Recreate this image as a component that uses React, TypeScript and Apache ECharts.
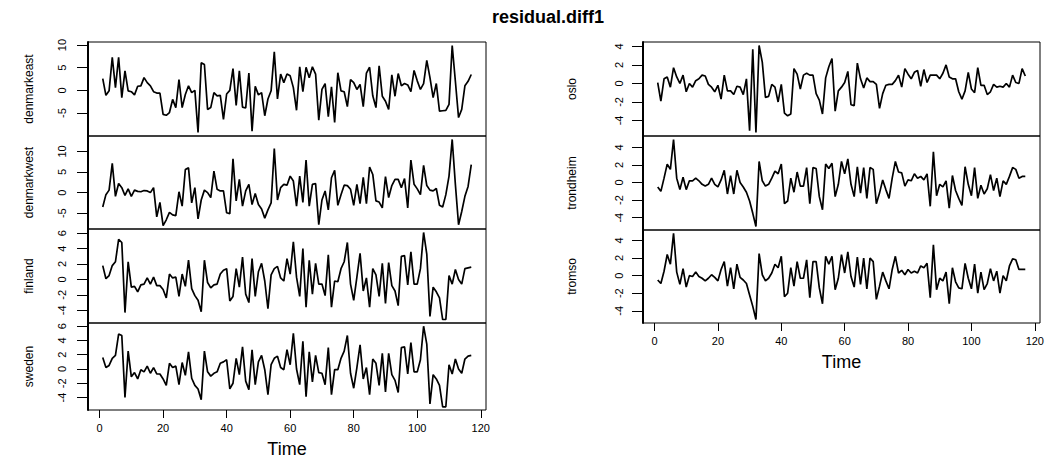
import { useEffect, useRef } from "react";
import * as echarts from "echarts";

const TIME = Array.from({ length: 117 }, (_, i) => i + 1);
const X_TICKS = [0, 20, 40, 60, 80, 100, 120];
const TICKS_DK = [-5, 0, 5, 10];
const TICKS_FS = [-4, -2, 0, 2, 4, 6];
const TICKS_NO = [-4, -2, 0, 2, 4];

const denmarkeast = [2.6,-1.1,-0.1,7.3,0.6,7.3,-1.6,4.3,-0.1,-0.3,
-1.0,0.9,1.0,2.8,1.7,1.0,-0.3,-0.6,-0.6,-5.3,
-5.5,-4.9,-2.0,-3.8,2.4,-3.8,-0.9,1.0,-0.5,0.0,
-9.3,6.1,5.7,-4.2,-3.8,-0.5,-1.2,-1.1,-6.4,-0.8,
0.0,4.8,-3.3,4.3,-3.7,-3.9,3.8,-9.0,0.9,-1.0,
-0.5,-5.6,-1.9,-0.1,8.5,-1.9,3.6,1.7,3.6,3.2,
0.6,-4.4,5.2,-0.3,5.1,2.8,5.2,3.6,-6.6,0.2,
1.5,-5.8,0.8,-7.1,3.9,-0.1,-0.3,-3.6,2.4,1.7,
0.2,1.3,-3.6,3.8,5.1,-1.2,-3.8,5.4,-1.3,-2.4,
-4.2,3.4,-1.3,3.7,1.0,1.5,1.2,-0.3,4.4,2.1,
0.2,1.5,6.6,2.8,-1.6,1.5,-4.6,-4.5,-4.4,-3.1,
9.9,2.0,-6.0,-4.2,1.0,2.0,3.5];

const denmarkwest = [-3.5,-0.5,0.6,7.1,-0.9,2.2,1.2,-0.7,0.9,-0.9,
0.6,0.3,0.2,0.5,0.4,0.0,1.2,-5.9,-2.4,-8.0,
-6.6,-4.8,-5.4,-5.6,0.2,-3.3,5.6,6.0,-2.5,1.2,
-6.4,-1.8,0.6,0.0,-1.2,5.2,0.8,0.4,0.4,-4.9,
-5.1,8.2,-2.0,3.2,-3.3,0.4,2.0,-2.9,-0.2,-2.9,
-4.0,-6.2,-4.2,-2.5,10.7,-1.8,1.2,2.0,1.8,4.0,
2.8,-3.3,4.0,-2.4,7.9,-3.3,2.0,2.2,-7.8,-1.8,
0.4,-4.2,3.6,5.4,-3.1,-0.5,1.8,1.7,0.8,-3.1,
2.0,-2.7,3.7,-2.7,6.2,4.4,-2.0,-2.3,-3.7,3.9,
-1.2,1.7,3.2,3.2,1.2,3.4,-3.7,7.9,2.0,0.9,
-0.5,6.6,1.7,0.6,0.4,1.0,-3.1,-3.5,-0.5,4.0,
12.9,2.0,-7.8,-4.6,-0.9,1.5,6.8];

const finland = [1.8,0.1,0.5,1.8,2.3,5.2,4.8,-4.3,2.3,-1.0,
-0.9,-1.6,-0.7,-0.6,0.2,-0.6,0.3,-0.8,-0.8,-1.3,
-2.4,0.7,0.2,0.3,-2.2,0.7,-0.9,2.5,-1.2,-2.1,
-2.7,-4.2,2.5,-0.4,-1.1,-0.7,-0.6,0.7,1.2,1.4,
-2.8,-2.2,1.4,-1.0,2.9,-1.9,-3.0,2.7,-2.2,1.0,
2.1,-0.2,-3.8,0.6,1.4,1.7,0.2,-0.2,2.7,0.7,
4.9,0.3,-2.2,4.0,-3.6,2.5,-1.9,2.1,-0.6,-0.6,
-2.1,3.2,-3.6,-0.2,-0.3,1.4,2.3,4.8,-0.6,-2.7,
0.3,3.4,-1.5,0.2,-3.6,1.4,0.6,-2.2,2.1,-3.1,
2.2,-0.8,-1.5,-3.4,3.0,3.1,-0.7,3.6,-0.6,-0.6,
1.4,6.1,3.3,-4.8,-1.0,-1.6,-2.4,-5.2,-5.2,0.5,
-0.6,1.3,0.0,-0.6,1.4,1.5,1.6];

const sweden = [1.6,0.2,0.5,1.5,1.9,4.9,4.7,-4.0,2.5,-1.1,
-0.5,-1.4,-0.1,-0.4,0.4,-0.6,0.2,-0.7,-0.7,-1.4,
-2.3,0.8,0.2,0.4,-2.2,0.9,-0.9,2.4,-1.3,-2.3,
-2.8,-4.3,2.5,-0.4,-1.0,-0.6,-0.4,0.8,1.0,1.3,
-2.8,-2.0,1.5,-0.8,3.1,-1.7,-2.9,2.7,-2.2,1.0,
1.9,-0.1,-3.6,0.6,1.5,1.8,0.2,-0.1,2.7,0.6,
5.0,0.0,-2.2,3.9,-3.9,2.4,-1.8,1.9,-0.5,-0.6,
-2.2,3.0,-3.6,-0.1,-0.1,1.5,2.5,4.7,-0.6,-2.7,
0.2,3.4,-1.4,0.2,-3.6,1.4,0.8,-2.3,2.2,-3.2,
2.2,-0.8,-1.6,-3.3,3.0,3.1,-0.7,3.7,-0.4,-0.4,
1.3,6.0,3.5,-4.9,-0.8,-1.4,-2.3,-5.3,-5.3,0.6,
-0.7,1.4,0.0,-0.6,1.4,1.8,1.9];

const oslo = [0.1,-1.9,0.5,0.7,-0.4,1.7,0.7,0.0,0.9,-0.9,
0.0,-0.4,0.3,0.5,0.9,0.8,-0.1,-0.4,-0.9,-0.2,
-1.7,0.9,-0.8,-0.8,-1.2,-0.3,-0.4,-1.2,0.5,-5.1,
3.7,-5.3,4.1,2.3,-1.5,-1.4,-0.1,-0.4,-2.0,-0.1,
-3.2,-3.5,-3.3,1.6,1.0,-0.6,0.9,1.1,0.9,0.9,
-1.1,-1.8,-3.3,0.6,1.8,2.7,-3.0,-0.8,-0.4,0.1,
1.3,-2.3,-2.4,2.2,0.5,-0.5,0.6,0.2,0.2,-0.1,
-2.7,-1.1,-0.2,-0.1,-0.1,0.3,0.9,-0.4,1.6,1.0,
0.5,1.2,1.4,-0.3,1.5,0.1,0.9,0.9,0.9,0.5,
1.1,2.0,0.7,0.5,0.5,-0.9,-1.7,-0.8,1.2,-0.6,
-1.0,1.7,-0.2,-0.2,-1.2,-0.9,-0.1,-0.4,-0.3,-0.4,
0.0,-0.4,0.9,0.1,0.0,1.6,0.8];

const trondheim = [-0.5,-1.0,0.5,2.1,1.5,4.9,0.5,-0.8,0.6,-0.8,
0.2,0.2,0.5,0.2,-0.2,-0.4,-0.2,0.5,-0.2,-0.5,
0.3,1.4,-1.3,0.8,-1.3,1.4,0.0,-0.5,-1.1,-2.1,
-3.5,-5.0,2.4,0.2,-0.4,-0.2,0.5,1.3,1.0,2.1,
-2.4,-2.1,0.5,-1.1,1.2,-0.4,-0.4,1.7,-2.4,1.7,
1.6,-1.6,-3.1,2.1,1.6,2.2,-1.6,-0.2,2.4,1.0,
2.7,-0.2,-1.6,1.8,-1.2,1.7,-1.8,1.7,1.5,-2.4,
-1.2,0.3,-0.8,-1.8,0.5,2.4,1.2,1.1,-0.4,0.3,
0.2,1.0,0.5,0.7,0.3,1.0,-2.7,3.5,-1.5,-0.2,
-0.5,0.2,-2.9,0.8,-0.9,-1.8,-2.6,1.8,-0.2,-1.5,
1.7,-1.8,-0.3,-1.3,-0.7,0.9,-0.9,0.5,-1.6,0.2,
-0.2,0.7,1.7,1.5,0.5,0.7,0.7];

const tromso = [-0.5,-0.9,0.5,2.4,1.3,4.8,0.4,-1.0,0.8,-1.3,
0.0,-0.1,0.4,-0.1,-0.3,-0.6,-0.3,0.1,-0.2,-0.6,
0.7,1.6,-1.2,0.9,-1.5,1.3,-0.2,-0.5,-0.9,-2.2,
-3.5,-5.0,2.5,0.1,-0.6,-0.3,0.3,1.3,0.9,2.2,
-2.4,-2.0,0.9,-1.2,1.6,-0.3,-0.3,1.8,-2.5,1.6,
1.6,-1.4,-3.2,2.2,1.3,2.2,-1.6,-0.3,2.4,0.3,
2.7,-0.1,-1.3,2.1,-1.0,2.0,-1.5,2.0,1.6,-2.7,
-1.2,0.4,-0.6,-1.5,0.7,2.2,0.3,0.6,0.1,0.7,
0.3,0.5,0.3,1.1,0.9,1.4,-2.5,3.5,-1.6,-0.3,
-0.6,0.4,-3.2,0.9,-0.7,-1.4,-1.5,1.4,-0.3,-1.5,
1.3,-2.0,0.4,-1.6,-0.9,0.8,-0.6,0.5,-2.0,0.0,
-0.6,1.1,1.9,1.8,0.7,0.7,0.7];

const FONT = "'Liberation Sans', Arial, Helvetica, sans-serif";

type Panel = {
  name: string; values: number[]; left: number; top: number; width: number; height: number;
  ticks: number[]; bottom: boolean; nameGap: number; labelMargin: number;
};

const PANELS: Panel[] = [
  { name: "denmarkeast", values: denmarkeast, left: 88, top: 42, width: 398, height: 94, ticks: TICKS_DK, bottom: false, nameGap: 53, labelMargin: 21 },
  { name: "denmarkwest", values: denmarkwest, left: 88, top: 136, width: 398, height: 93, ticks: TICKS_DK, bottom: false, nameGap: 53, labelMargin: 21 },
  { name: "finland", values: finland, left: 88, top: 229, width: 398, height: 94, ticks: TICKS_FS, bottom: false, nameGap: 53, labelMargin: 21 },
  { name: "sweden", values: sweden, left: 88, top: 323, width: 398, height: 94, ticks: TICKS_FS, bottom: true, nameGap: 53, labelMargin: 21 },
  { name: "oslo", values: oslo, left: 643, top: 42, width: 397, height: 94, ticks: TICKS_NO, bottom: false, nameGap: 65, labelMargin: 19 },
  { name: "trondheim", values: trondheim, left: 643, top: 136, width: 397, height: 94, ticks: TICKS_NO, bottom: false, nameGap: 65, labelMargin: 19 },
  { name: "tromso", values: tromso, left: 643, top: 230, width: 397, height: 93, ticks: TICKS_NO, bottom: true, nameGap: 65, labelMargin: 19 },
];

function range(v: number[]) {
  const lo = Math.min(...v), hi = Math.max(...v);
  const pad = (hi - lo) * 0.04;
  return [lo - pad, hi + pad];
}

export default function App() {
  const ref = useRef<HTMLDivElement>(null);
  useEffect(() => {
    const chart = echarts.init(ref.current!, null, { renderer: "svg" });
    const tr = range(TIME);
    const grids: any[] = [], xAxes: any[] = [], yAxes: any[] = [], series: any[] = [];
    PANELS.forEach((p, i) => {
      const yr = range(p.values);
      grids.push({ left: p.left, top: p.top, width: p.width, height: p.height, show: true, borderColor: "#000", borderWidth: 1, backgroundColor: "transparent" });
      xAxes.push({
        type: "value", gridIndex: i, min: tr[0], max: tr[1], position: "bottom",
        show: p.bottom,
        axisLine: { show: false, onZero: false },
        splitLine: { show: false },
        axisTick: { show: p.bottom, customValues: X_TICKS, length: 8, inside: false, lineStyle: { color: "#000", width: 1 } },
        axisLabel: { show: p.bottom, customValues: X_TICKS, margin: 12, color: "#000", fontFamily: FONT, fontSize: 11 },
        name: p.bottom ? "Time" : "", nameLocation: "middle", nameGap: 30,
        nameTextStyle: { color: "#000", fontFamily: FONT, fontSize: 18 },
      });
      yAxes.push({
        type: "value", gridIndex: i, min: yr[0], max: yr[1],
        axisLine: { show: true, onZero: false, lineStyle: { color: "#000", width: 2 } },
        splitLine: { show: false },
        axisTick: { show: true, customValues: p.ticks, length: 11, lineStyle: { color: "#000", width: 1 } },
        axisLabel: { customValues: p.ticks, rotate: 90, margin: p.labelMargin, color: "#000", fontFamily: FONT, fontSize: 11 },
        name: p.name, nameLocation: "middle", nameRotate: 90, nameGap: p.nameGap,
        nameTextStyle: { color: "#000", fontFamily: FONT, fontSize: 12 },
      });
      series.push({
        type: "line", xAxisIndex: i, yAxisIndex: i,
        data: TIME.map((t, k) => [t, p.values[k]]),
        showSymbol: false, symbol: "none",
        lineStyle: { color: "#000", width: 1.7 },
      });
    });
    chart.setOption({
      animation: false,
      backgroundColor: "#fff",
      grid: grids, xAxis: xAxes, yAxis: yAxes, series,
      graphic: [{
        type: "text", x: 548, y: 17,
        style: { text: "residual.diff1", fill: "#000", font: `bold 18px ${FONT}`, textAlign: "center", textVerticalAlign: "middle" },
      }],
    });
    return () => chart.dispose();
  }, []);
  return <div ref={ref} style={{ position: "absolute", left: 0, top: 0, width: 1051, height: 459, background: "#fff" }} />;
}
